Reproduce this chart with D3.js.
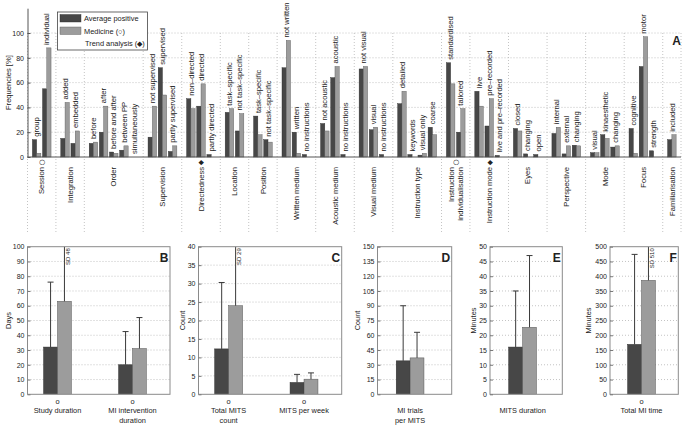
<!DOCTYPE html>
<html>
<head>
<meta charset="utf-8">
<script src="https://cdn.jsdelivr.net/npm/d3@7"></script>
<style>
body { margin: 0; background: #fff; }
text { font-family: "Liberation Sans", Arial, Helvetica, sans-serif; fill: #222; }
</style>
</head>
<body>
<svg id="chart" width="685" height="426"></svg>
<script>
// ---- panel A data ----
var groupNames = ['Session', 'Integration', 'Order', 'Supervision', 'Directedness', 'Location', 'Position',
    'Written medium', 'Acoustic medium', 'Visual medium', 'Instruction type', ['Instruction', 'individualisation'],
    'Instruction mode', 'Eyes', 'Perspective', 'Mode', 'Focus', 'Familiarisation'];
var groupMarks = ['○', '', '', '', '◆', '', '', '', '', '', '', '○', '◆', '', '', '', '', ''];
var groupSizes = [2, 2, 5, 3, 3, 2, 2, 3, 3, 3, 4, 2, 3, 3, 3, 3, 3, 1];
var subLabels = ['group', 'individual', 'added', 'embedded', 'before', 'after', 'before and after', 'between PP',
    'simultaneously', 'not supervised', 'supervised', 'partly supervised', 'non\u2013directed', 'directed',
    'partly directed', 'task\u2013specific', 'not task\u2013specific', 'task\u2013specific', 'not task\u2013specific',
    'not written', 'written', 'no instructions', 'not acoustic', 'acoustic', 'no instructions', 'not visual',
    'visual', 'no instructions', 'detailed', 'keywords', 'visual only', 'coarse', 'standardised', 'tailored',
    'live', 'pre\u2013recorded', 'live and pre\u2013recorded', 'closed', 'changing', 'open', 'internal', 'external',
    'changing', 'visual', 'kinaesthetic', 'changing', 'cognitive', 'motor', 'strength', 'included'];
var avgPositive = [14, 55, 15, 11, 11, 20, 4, 5.5, 0, 16, 72, 4.5, 47, 41, 2, 36, 21, 33, 14,
    72, 20, 2, 27, 64, 2, 71, 22, 2, 43, 2, 1.5, 24, 76, 20, 53, 25, 1.3, 23, 2.5, 2,
    19, 2.5, 9.5, 3.5, 18, 8, 23, 73, 5, 14];
var medicine = [3, 88, 44, 21, 12, 41, 3, 9, 0, 41, 50, 9, 39, 59, 0, 39, 35, 18, 12,
    94, 3, 0, 21, 73, 0, 73, 24, 0, 53, 0, 3, 18, 59, 39, 41, 47, 0, 21, 0, 0,
    24, 9, 9, 3.5, 15, 9, 3, 97, 0, 18];
var yTicksA = [0, 20, 40, 60, 80, 100];

// ---- bottom panels data ----
var studyLabels = [['Study duration'], ['MI intervention', 'duration']];
var studyMarks = ['o', 'o'];
var studyAvg = [32, 20];
var studyAvgSd = [44, 22.5];
var studyMed = [63, 31];
var studyMedSd = [48, 21];
var studyTicks = [0, 10, 20, 30, 40, 50, 60, 70, 80, 90, 100];

var mitsLabels = [['Total MITS', 'count'], ['MITS per week']];
var mitsMarks = ['o', 'o'];
var mitsAvg = [12.3, 3.2];
var mitsAvgSd = [18, 2.2];
var mitsMed = [24, 4.1];
var mitsMedSd = [29, 1.7];
var mitsTicks = [0, 5, 10, 15, 20, 25, 30, 35, 40];

var trialLabels = [['MI trials', 'per MITS']];
var trialMarks = [''];
var trialAvg = [34];
var trialAvgSd = [56];
var trialMed = [37];
var trialMedSd = [26];
var trialTicks = [0, 15, 30, 45, 60, 75, 90, 105, 120, 135, 150];

var durLabels = [['MITS duration']];
var durMarks = [''];
var durAvg = [16];
var durAvgSd = [19];
var durMed = [22.7];
var durMedSd = [24.3];
var durTicks = [0, 5, 10, 15, 20, 25, 30, 35, 40, 45, 50];

var totalLabels = [['Total MI time']];
var totalMarks = ['o'];
var totalAvg = [169];
var totalAvgSd = [305];
var totalMed = [386];
var totalMedSd = [510];
var totalTicks = [0, 50, 100, 150, 200, 250, 300, 350, 400, 450, 500];

var darkColor = '#474747';
var lightColor = '#9c9c9c';
var edgeColor = '#2b2b2b';
var gridColor = '#b5b5b5';

var svg = d3.select('#chart');
svg.append('rect').attr('width', 685).attr('height', 426).attr('fill', '#fff');

// ================= Panel A =================
function drawPanelA() {
    var gap = 0.8;
    var positions = [];
    var groupOf = [];
    var k = 0;
    groupSizes.forEach(function(n, g) {
        for (var i = 0; i < n; i++) {
            positions.push(k + g * gap);
            groupOf.push(g);
            k++;
        }
    });
    var lastPos = positions[positions.length - 1];

    var x = d3.scaleLinear().domain([-0.9, lastPos + 0.9]).range([27.5, 681]);
    var y = d3.scaleLinear().domain([0, 120]).range([157, 8.2]);
    var barW = x(0.42) - x(0);

    var g = svg.append('g');

    // horizontal grid
    g.selectAll('.hgrid').data(yTicksA.slice(1)).enter().append('line')
        .attr('x1', x(-0.9)).attr('x2', x(lastPos + 0.9))
        .attr('y1', function(d) { return y(d); }).attr('y2', function(d) { return y(d); })
        .attr('stroke', gridColor).attr('stroke-width', 0.8).attr('stroke-dasharray', '1,2');

    // group separators
    var seps = [-0.9];
    var start = 0;
    groupSizes.forEach(function(n) {
        seps.push(positions[start + n - 1] + 0.9);
        start += n;
    });
    g.selectAll('.vsep').data(seps).enter().append('line')
        .attr('x1', function(d) { return x(d); }).attr('x2', function(d) { return x(d); })
        .attr('y1', y(100)).attr('y2', 233)
        .attr('stroke', gridColor).attr('stroke-width', 0.8).attr('stroke-dasharray', '1,2');

    // bars
    g.selectAll('.barAvg').data(avgPositive).enter().append('rect')
        .attr('x', function(d, i) { return x(positions[i]) - barW; })
        .attr('y', function(d) { return y(d); })
        .attr('width', barW)
        .attr('height', function(d) { return y(0) - y(d); })
        .attr('fill', darkColor).attr('stroke', edgeColor).attr('stroke-width', 0.4);
    g.selectAll('.barMed').data(medicine).enter().append('rect')
        .attr('x', function(d, i) { return x(positions[i]); })
        .attr('y', function(d) { return y(d); })
        .attr('width', barW)
        .attr('height', function(d) { return y(0) - y(d); })
        .attr('fill', lightColor).attr('stroke', '#555').attr('stroke-width', 0.4);

    // sub labels
    g.selectAll('.sublab').data(subLabels).enter().append('text')
        .attr('transform', function(d, i) {
            var top = y(Math.max(avgPositive[i], medicine[i])) - 3;
            return 'translate(' + x(positions[i]) + ',' + top + ') rotate(-90)';
        })
        .attr('dy', '0.35em')
        .style('font-size', '7.6px')
        .text(function(d) { return d; });

    // axes
    var yAxis = d3.axisLeft(y).tickValues(yTicksA).tickSizeInner(-3).tickSizeOuter(0).tickPadding(3.5);
    var ya = g.append('g').attr('transform', 'translate(' + x(-0.9) + ',0)').call(yAxis);
    ya.select('.domain').attr('stroke', '#555');
    ya.selectAll('.tick line').attr('stroke', '#555');
    ya.selectAll('.tick text').style('font-size', '7px').attr('fill', '#333').style('font-family', 'Liberation Sans, Arial, sans-serif');
    g.append('line').attr('x1', x(-0.9)).attr('x2', x(lastPos + 0.9))
        .attr('y1', y(0)).attr('y2', y(0)).attr('stroke', '#555');

    g.append('text')
        .attr('transform', 'translate(8,' + (y(0) + y(120)) / 2 + ') rotate(-90)')
        .attr('text-anchor', 'middle').attr('dy', '0.35em')
        .style('font-size', '7.6px')
        .text('Frequencies [%]');

    // group labels below axis
    var groupCenters = [];
    start = 0;
    groupSizes.forEach(function(n) {
        groupCenters.push((positions[start] + positions[start + n - 1]) / 2);
        start += n;
    });
    groupNames.forEach(function(name, gi) {
        var lines = Array.isArray(name) ? name : [name];
        var cx = x(groupCenters[gi]);
        var topY = 167;
        if (groupMarks[gi]) {
            g.append('text')
                .attr('transform', 'translate(' + cx + ',162.5) rotate(-90)')
                .attr('text-anchor', 'middle').attr('dy', '0.35em')
                .style('font-size', '7px').style('font-family', 'DejaVu Sans, sans-serif')
                .text(groupMarks[gi]);
        }
        lines.forEach(function(line, li) {
            var off = (li - (lines.length - 1) / 2) * 9.5;
            g.append('text')
                .attr('transform', 'translate(' + (cx + off) + ',' + topY + ') rotate(-90)')
                .attr('text-anchor', 'end').attr('dy', '0.35em')
                .style('font-size', '7.6px')
                .text(line);
        });
    });

    // legend
    var lg = g.append('g');
    lg.append('rect').attr('x', 57.5).attr('y', 12).attr('width', 90).attr('height', 38)
        .attr('fill', '#fff').attr('stroke', '#444').attr('stroke-width', 0.8);
    lg.append('rect').attr('x', 60).attr('y', 14.5).attr('width', 21).attr('height', 7.5)
        .attr('fill', darkColor).attr('stroke', edgeColor).attr('stroke-width', 0.4);
    lg.append('rect').attr('x', 60).attr('y', 27).attr('width', 21).attr('height', 7.5)
        .attr('fill', lightColor).attr('stroke', '#555').attr('stroke-width', 0.4);
    lg.append('text').attr('x', 84).attr('y', 21.2).style('font-size', '7.4px').text('Average positive');
    lg.append('text').attr('x', 84).attr('y', 33.8).style('font-size', '7.4px').text('Medicine (○)');
    lg.append('text').attr('x', 85).attr('y', 46).style('font-size', '7.4px').text('Trend analysis (◆)');

    g.append('text').attr('x', 681).attr('y', 45).attr('text-anchor', 'end')
        .style('font-size', '12px').style('font-weight', 'bold').attr('fill', '#111').text('A');
}

// ================= bottom panels =================
var bottomTop = 246.7, bottomBottom = 394.3;

function drawBarPanel(opt) {
    var x = d3.scaleLinear().domain(opt.domain).range([opt.left, opt.right]);
    var y = d3.scaleLinear().domain([0, opt.ticks[opt.ticks.length - 1]]).range([bottomBottom, bottomTop]);
    var bw = 0.185;
    var g = svg.append('g');
    var clipId = 'clip' + opt.letter;
    svg.append('clipPath').attr('id', clipId).append('rect')
        .attr('x', opt.left).attr('y', bottomTop).attr('width', opt.right - opt.left).attr('height', bottomBottom - bottomTop);

    // grid
    g.selectAll('.grid').data(opt.ticks.slice(1, -1)).enter().append('line')
        .attr('x1', opt.left).attr('x2', opt.right)
        .attr('y1', function(d) { return y(d); }).attr('y2', function(d) { return y(d); })
        .attr('stroke', gridColor).attr('stroke-width', 0.8).attr('stroke-dasharray', '1,2');

    var cats = opt.labels.map(function(d, i) { return i + 1; });
    var series = [
        { means: opt.avg, sds: opt.avgSd, off: -bw, fill: darkColor, stroke: edgeColor },
        { means: opt.med, sds: opt.medSd, off: 0, fill: lightColor, stroke: '#555' }
    ];
    var body = g.append('g').attr('clip-path', 'url(#' + clipId + ')');
    series.forEach(function(s) {
        body.selectAll(null).data(cats).enter().append('rect')
            .attr('x', function(c) { return x(c + s.off); })
            .attr('y', function(c, i) { return y(s.means[i]); })
            .attr('width', x(bw) - x(0))
            .attr('height', function(c, i) { return y(0) - y(s.means[i]); })
            .attr('fill', s.fill).attr('stroke', s.stroke).attr('stroke-width', 0.5);
        // error bars (upper only)
        body.selectAll(null).data(cats).enter().append('line')
            .attr('x1', function(c) { return x(c + s.off + bw / 2); })
            .attr('x2', function(c) { return x(c + s.off + bw / 2); })
            .attr('y1', function(c, i) { return y(s.means[i]); })
            .attr('y2', function(c, i) { return y(s.means[i] + s.sds[i]); })
            .attr('stroke', '#3a3a3a').attr('stroke-width', 1);
        body.selectAll(null).data(cats).enter().append('line')
            .attr('x1', function(c) { return x(c + s.off + bw / 2) - 3; })
            .attr('x2', function(c) { return x(c + s.off + bw / 2) + 3; })
            .attr('y1', function(c, i) { return y(s.means[i] + s.sds[i]); })
            .attr('y2', function(c, i) { return y(s.means[i] + s.sds[i]); })
            .attr('stroke', '#3a3a3a').attr('stroke-width', 1);
        // SD note when clipped
        cats.forEach(function(c, i) {
            if (s.means[i] + s.sds[i] > y.domain()[1]) {
                g.append('text')
                    .attr('transform', 'translate(' + (x(c + s.off + bw / 2) + 5.5) + ',' + (bottomTop + 1.5) + ') rotate(-90)')
                    .attr('text-anchor', 'end')
                    .style('font-size', '6px').attr('fill', '#444')
                    .text('SD ' + s.sds[i]);
            }
        });
    });

    // box
    g.append('rect').attr('x', opt.left).attr('y', bottomTop)
        .attr('width', opt.right - opt.left).attr('height', bottomBottom - bottomTop)
        .attr('fill', 'none').attr('stroke', '#8a8a8a').attr('stroke-width', 1);

    var yAxis = d3.axisLeft(y).tickValues(opt.ticks).tickSizeInner(-3).tickSizeOuter(0).tickPadding(3);
    var ya = g.append('g').attr('transform', 'translate(' + opt.left + ',0)').call(yAxis);
    ya.select('.domain').remove();
    ya.selectAll('.tick line').attr('stroke', '#777');
    ya.selectAll('.tick text').style('font-size', '7px').attr('fill', '#333').style('font-family', 'Liberation Sans, Arial, sans-serif');

    g.append('text')
        .attr('transform', 'translate(' + opt.ylabelX + ',' + (bottomTop + bottomBottom) / 2 + ') rotate(-90)')
        .attr('text-anchor', 'middle').attr('dy', '0.35em')
        .style('font-size', '7.4px').text(opt.ylabel);

    // category labels
    cats.forEach(function(c, i) {
        var cx = x(c);
        if (opt.marks[i]) {
            g.append('text').attr('x', cx).attr('y', 404).attr('text-anchor', 'middle')
                .style('font-size', '7.4px').text(opt.marks[i]);
        }
        opt.labels[i].forEach(function(line, li) {
            g.append('text').attr('x', cx).attr('y', 413 + li * 10).attr('text-anchor', 'middle')
                .style('font-size', '7.4px').text(line);
        });
    });

    g.append('text').attr('x', opt.right - 1.5).attr('y', bottomTop + 15).attr('text-anchor', 'end')
        .style('font-size', '12px').style('font-weight', 'bold').attr('fill', '#111').text(opt.letter);
}

drawPanelA();

drawBarPanel({ letter: 'B', left: 27.5, right: 170, domain: [0.6, 2.5], ticks: studyTicks, ylabel: 'Days', ylabelX: 8,
    labels: studyLabels, marks: studyMarks, avg: studyAvg, avgSd: studyAvgSd, med: studyMed, medSd: studyMedSd });
drawBarPanel({ letter: 'C', left: 198.5, right: 341.7, domain: [0.6, 2.5], ticks: mitsTicks, ylabel: 'Count', ylabelX: 182,
    labels: mitsLabels, marks: mitsMarks, avg: mitsAvg, avgSd: mitsAvgSd, med: mitsMed, medSd: mitsMedSd });
drawBarPanel({ letter: 'D', left: 377.5, right: 451.7, domain: [0.565, 1.555], ticks: trialTicks, ylabel: 'Count', ylabelX: 357,
    labels: trialLabels, marks: trialMarks, avg: trialAvg, avgSd: trialAvgSd, med: trialMed, medSd: trialMedSd });
drawBarPanel({ letter: 'E', left: 490, right: 562.3, domain: [0.565, 1.53], ticks: durTicks, ylabel: 'Minutes', ylabelX: 473,
    labels: durLabels, marks: durMarks, avg: durAvg, avgSd: durAvgSd, med: durMed, medSd: durMedSd });
drawBarPanel({ letter: 'F', left: 610, right: 678.3, domain: [0.58, 1.49], ticks: totalTicks, ylabel: 'Minutes', ylabelX: 588,
    labels: totalLabels, marks: totalMarks, avg: totalAvg, avgSd: totalAvgSd, med: totalMed, medSd: totalMedSd });
</script>
</body>
</html>
